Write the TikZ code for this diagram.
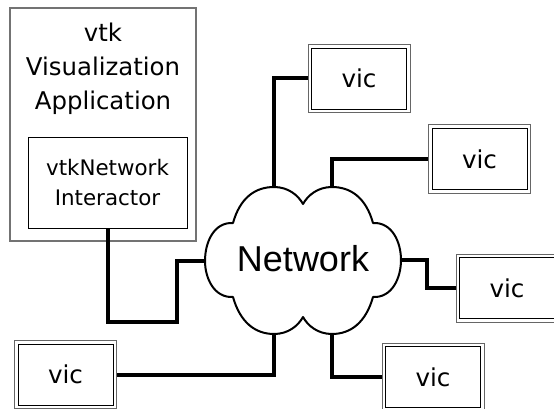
\documentclass[tikz,border=0pt]{standalone}
\usepackage{fontspec}
\setmainfont{DejaVu Sans}
\newfontfamily\cloudfont{Liberation Sans}
\usepackage{tikz}
\usetikzlibrary{calc, positioning}
\tikzstyle{frame} = [rectangle, draw=gray!90!black, line width=1.2pt, minimum width=186pt, minimum height=233pt]
\tikzstyle{block} = [rectangle, draw=black, line width=0.9pt, minimum width=159pt, minimum height=91pt, inner sep=0pt, align=center, font=\fontsize{21.4}{29.5}\selectfont]
\tikzstyle{vic} = [rectangle, draw=gray!80!black, line width=1pt, minimum width=102pt, minimum height=68pt, font=\fontsize{24.6}{30}\selectfont,
	path picture={\draw[black, line width=0.9pt] ([shift={(3.5pt,3.5pt)}]path picture bounding box.south west) rectangle ([shift={(-3.5pt,-3.5pt)}]path picture bounding box.north east);}]
\tikzstyle{cloudline} = [line width=2pt, line join=round]
\tikzstyle{link} = [line width=4pt]

\begin{document}
\begin{tikzpicture}[x=1pt, y=-1pt, node distance=10pt]
		\useasboundingbox (0,0) rectangle (554,409);
		
		\node (App) [frame] at (103,124.5) {};
		\node (Title) [below = 15pt of App.north, align=center, inner sep=0pt, font=\fontsize{24.4}{34}\selectfont] {vtk\\Visualization\\Application};
		\node (Interactor) [block] at (107.5,182.5) {vtkNetwork\\Interactor};
		
		% cloud
		\draw[cloudline] (233,223) .. controls (240,198) and (255,187) .. (274,187) coordinate (CloudTL)
			.. controls (288,187) and (298,195) .. (303,204)
			.. controls (308,195) and (318,187) .. (332,187) coordinate (CloudTR)
			.. controls (351,187) and (366,198) .. (373,223)
			.. controls (392,222) and (401,242) .. (401,260) coordinate (CloudR)
			.. controls (401,278) and (392,298) .. (373,297)
			.. controls (366,322) and (351,334) .. (332,334) coordinate (CloudBR)
			.. controls (318,334) and (308,326) .. (303,317)
			.. controls (298,326) and (288,334) .. (274,334) coordinate (CloudBL)
			.. controls (255,334) and (240,322) .. (233,297)
			.. controls (214,298) and (205,278) .. (205,261) coordinate (CloudL)
			.. controls (205,242) and (214,222) .. (233,223) -- cycle;
		\node (Network) [font=\cloudfont\fontsize{36}{40}\selectfont] at (303,259) {Network};
		
		\node (Vic1) [vic] at (359,78.5) {vic};
		\node (Vic2) [vic] at (479.5,159) {vic};
		\node (Vic3) [vic] at (507,288) {vic};
		\node (Vic4) [vic] at (433,377) {vic};
		\node (Vic5) [vic] at (65.5,374.5) {vic};
		
		\draw [link] (CloudTL) |- (Vic1.west);
		\draw [link] (CloudTR) |- (Vic2.west);
		\draw [link] (CloudR) -- ++(26,0) |- (Vic3.west);
		\draw [link] (CloudBR) |- (Vic4.west);
		\draw [link] (CloudBL) |- (Vic5.east);
		\draw [link] (Interactor.south) -- ++(0,94) -| ($(CloudL)+(-28,0)$) -- (CloudL);
\end{tikzpicture}
\end{document}
